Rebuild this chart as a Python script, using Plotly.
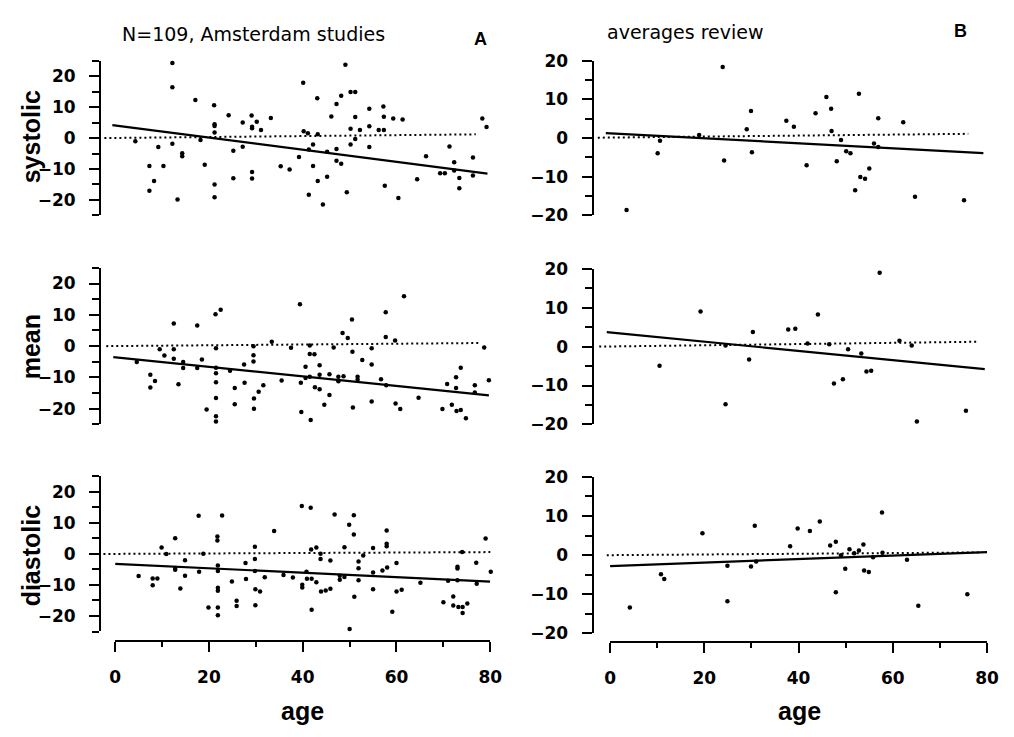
import plotly.graph_objects as go

# ---------------- data ----------------
# Panel A (Amsterdam studies), systolic
sysA_age = [4.3, 7.3, 7.3, 8.3, 9.2, 10.3, 12.2, 12.2, 12.2, 13.3, 14.3, 14.3, 17.1, 18.2, 19.1,
            21.1, 21.2, 21.2, 21.2, 21.2, 21.2, 24.2, 25.2, 25.2, 27.2, 27.2, 29.1, 29.2, 29.2, 29.2,
            29.2, 30.2, 31.1, 33.2, 35.3, 37.2, 39.2, 40.1, 40.2, 41.1, 41.3, 41.3, 42.2, 42.2, 43.1,
            43.2, 43.2, 44.3, 45.2, 45.2, 46.1, 47.2, 47.2, 47.2, 48.2, 48.2, 49.1, 49.4, 50.2, 50.2,
            50.2, 51.2, 51.2, 51.2, 52.2, 54.2, 54.2, 54.2, 56.2, 57.2, 57.3, 57.3, 57.5, 59.3, 60.4,
            61.3, 64.4, 66.3, 69.3, 70.3, 71.3, 72.3, 72.3, 73.4, 73.4, 76.3, 76.3, 78.3, 79.2]
sysA_val = [-1.0, -9.0, -17.0, -13.9, -2.9, -9.0, 24.3, 16.4, -1.8, -19.9, -4.9, -5.9, 12.3, -0.6, -8.6,
            10.6, 4.5, 3.9, 1.8, -15.0, -19.1, 7.4, -4.1, -13.0, 5.0, -2.8, 7.3, 3.7, 3.2, -11.0,
            -13.1, 5.3, 2.6, 6.5, -9.1, -10.2, -6.1, 17.9, 2.2, 1.6, -3.7, -18.3, -2.1, -9.0, 12.9,
            1.2, -13.9, -21.5, -4.4, -12.5, 7.0, 11.0, -3.5, -7.3, 13.7, -8.3, 23.7, -17.5, 14.9, 3.0,
            -2.1, 14.9, 6.8, -0.3, 2.6, 9.5, 3.8, -2.9, 2.6, 10.2, 6.9, 2.6, -15.4, 6.3, -19.4,
            6.0, -13.3, -5.9, -11.4, -11.4, -2.7, -7.8, -10.5, -12.9, -16.2, -6.3, -12.1, 6.3, 3.6]

# Panel A, mean
meanA_age = [4.6, 7.5, 7.5, 8.5, 9.5, 10.5, 12.5, 12.5, 12.5, 13.5, 14.5, 14.5, 17.5, 17.5, 18.5,
             19.5, 21.4, 21.5, 21.5, 21.5, 21.5, 21.5, 21.5, 21.5, 22.5, 24.5, 25.5, 25.5, 27.5, 27.6,
             29.5, 29.5, 29.5, 29.6, 29.6, 30.6, 31.6, 33.4, 35.5, 37.5, 39.4, 39.6, 39.7, 40.6, 40.6,
             41.5, 41.5, 41.5, 41.7, 42.5, 42.6, 43.6, 43.6, 43.6, 44.6, 45.7, 45.7, 46.6, 47.6, 47.6,
             48.5, 48.7, 49.6, 50.5, 50.6, 50.7, 51.7, 51.7, 52.7, 54.7, 54.7, 54.7, 56.7, 57.7, 57.7,
             57.8, 59.7, 59.8, 60.8, 61.6, 64.7, 69.8, 70.8, 71.8, 72.7, 72.7, 72.8, 73.7, 73.7, 74.8,
             76.7, 76.7, 78.7, 79.7]
meanA_val = [-5.1, -9.1, -13.2, -11.1, -1.0, -3.0, 7.2, -1.0, -4.0, -12.2, -5.1, -7.0, 6.6, -7.0, -4.3,
             -20.2, 10.2, -0.7, -6.9, -8.7, -11.5, -16.6, -22.4, -24.1, 11.6, -7.9, -13.4, -18.6, -5.9, -11.7,
             0.0, -2.9, -4.9, -16.7, -20.0, -14.6, -12.5, 1.4, -11.0, -0.5, 13.4, -11.7, -21.0, -6.6, -10.2,
             0.2, -2.5, -9.8, -23.6, -2.6, -13.1, -6.1, -9.1, -13.8, -18.7, -9.0, -15.6, -0.4, -9.8, -11.2,
             4.2, -9.6, 2.6, 8.5, -1.8, -19.6, -9.8, -10.7, -4.4, -0.7, -5.9, -17.7, -10.6, 10.8, 2.9,
             -12.5, 1.8, -18.3, -20.1, 15.9, -16.5, -20.1, -12.1, -18.7, -9.9, -13.4, -20.7, -6.9, -20.4, -23.0,
             -12.5, -14.8, -0.4, -10.9]

# Panel A, diastolic
diaA_age = [5.0, 8.0, 8.0, 9.0, 9.9, 10.9, 12.8, 12.8, 12.8, 13.9, 14.9, 14.9, 17.8, 17.9, 18.8,
            19.9, 21.8, 21.8, 21.9, 21.9, 21.9, 21.9, 21.9, 21.9, 22.8, 24.9, 25.9, 25.9, 27.8, 27.9,
            29.8, 29.8, 29.8, 29.9, 29.9, 30.9, 31.9, 33.9, 35.9, 37.9, 39.8, 39.9, 39.9, 40.8, 40.9,
            41.7, 41.8, 41.9, 41.9, 42.9, 42.9, 43.8, 43.8, 43.9, 44.9, 45.9, 45.9, 46.8, 47.9, 47.9,
            48.9, 48.9, 49.9, 50.0, 50.9, 50.9, 51.0, 51.9, 51.9, 51.9, 52.9, 55.0, 55.0, 55.0, 57.0,
            57.9, 57.9, 57.9, 58.0, 59.1, 60.0, 60.0, 61.1, 61.8, 65.1, 70.0, 71.0, 72.1, 72.1, 73.0,
            73.0, 73.0, 73.2, 74.0, 74.1, 74.1, 75.1, 77.0, 77.1, 79.0, 80.1]
diaA_val = [-7.1, -10.1, -7.9, -7.9, 2.1, 0.0, 5.1, -4.5, -5.1, -11.1, -2.0, -7.0, 12.3, -5.7, 0.1,
            -17.3, 5.6, 4.3, -3.7, -5.5, -10.9, -11.9, -17.3, -19.8, 12.4, -8.9, -15.1, -16.8, -2.9, -8.1,
            2.3, -1.6, -5.5, -11.4, -16.5, -12.1, -7.5, 7.4, -6.8, -7.6, 15.5, -9.9, -10.8, -5.7, -8.0,
            14.9, 1.4, -8.0, -18.0, 2.1, -9.1, 0.1, -1.6, -12.1, -11.8, -2.1, -11.2, 12.7, -7.0, -8.3,
            2.2, -7.4, 9.4, -24.2, 12.5, 6.3, -13.8, -2.4, -4.6, -8.5, -0.5, 1.9, -6.0, -11.4, -5.3,
            7.6, 3.3, 2.5, -4.4, -18.6, -2.9, -12.1, -11.5, 25.1, -9.3, -15.6, -8.6, -13.7, -16.6, -4.1,
            -4.7, -8.5, -17.1, 0.6, -17.1, -19.0, -16.0, -2.8, -9.6, 5.0, -5.7]

# Panel B (averages review), systolic
sysB_age = [3.5, 10.1, 10.6, 18.9, 23.9, 24.2, 29.0, 29.9, 30.1, 37.4, 39.0, 41.7, 43.6, 45.9, 46.9,
            47.0, 48.1, 49.0, 50.1, 51.0, 52.0, 52.8, 53.1, 54.1, 55.0, 56.0, 56.9, 56.9, 62.2, 64.7, 75.1]
sysB_val = [-18.6, -3.9, -0.7, 0.8, 18.4, -5.8, 2.3, 7.0, -3.7, 4.5, 2.9, -7.0, 6.4, 10.6, 7.6,
            1.8, -6.0, -0.5, -3.4, -3.9, -13.5, 11.5, -10.1, -10.5, -7.9, -1.4, -2.3, 5.1, 4.1, -15.2, -16.1]

# Panel B, mean
meanB_age = [10.5, 19.2, 24.5, 24.5, 29.5, 30.3, 37.8, 39.3, 41.9, 44.1, 46.5, 47.5, 49.4, 50.5, 53.3,
             54.4, 55.4, 57.2, 61.4, 64.0, 65.1, 75.5]
meanB_val = [-4.9, 9.0, 0.3, -14.8, -3.3, 3.75, 4.4, 4.6, 0.8, 8.25, 0.6, -9.5, -8.4, -0.7, -1.8,
             -6.4, -6.2, 19.0, 1.5, 0.3, -19.25, -16.5]

# Panel B, diastolic
diaB_age = [4.2, 10.8, 11.5, 19.6, 24.9, 24.9, 29.9, 30.7, 31.0, 38.2, 39.8, 42.4, 44.5, 46.7, 47.9,
            47.9, 49.0, 49.9, 50.8, 51.8, 52.8, 53.75, 53.9, 54.9, 55.8, 57.7, 57.8, 63.0, 65.4, 75.8]
diaB_val = [-13.4, -4.9, -6.1, 5.6, -2.7, -11.8, -2.9, 7.5, -1.6, 2.3, 6.8, 6.2, 8.6, 2.5, 3.4,
            -9.5, 0.0, -3.5, 1.5, 0.5, 1.2, 2.7, -3.9, -4.3, -0.5, 10.9, 0.6, -1.2, -12.9, -10.0]

# regression lines (end points: age, value)
fitA_sys_age, fitA_sys_val = [-0.6, 79.4], [4.2, -11.5]
fitA_mean_age, fitA_mean_val = [-0.4, 79.7], [-3.5, -15.7]
fitA_dia_age, fitA_dia_val = [0, 80], [-3.2, -8.9]
fitB_sys_age, fitB_sys_val = [-0.9, 79.2], [1.3, -3.9]
fitB_mean_age, fitB_mean_val = [-0.7, 79.5], [3.75, -5.8]
fitB_dia_age, fitB_dia_val = [0, 80], [-2.8, 0.8]

# dotted zero reference lines (as drawn)
refA_sys_age, refA_sys_val = [-2.3, 76.9], [0, 1.2]
refA_mean_age, refA_mean_val = [-1.9, 77.9], [0, 1.0]
refA_dia_age, refA_dia_val = [-2.5, 80], [0, 0.6]
refB_sys_age, refB_sys_val = [-2.6, 76.0], [0.1, 1.1]
refB_mean_age, refB_mean_val = [-2.3, 77.7], [0, 1.25]
refB_dia_age, refB_dia_val = [-0.7, 78.7], [0, 0.7]

row_labels = ["systolic", "mean", "diastolic"]
titleA, titleB = "N=109, Amsterdam studies", "averages review"
panel_tags = ["A", "B"]
x_label = "age"

# ---------------- layout helpers ----------------
# The page body keeps its default 8px margin, so the figure is 16px smaller than the
# window and every window-pixel position p is mapped to figure pixel p - 8.
OFF = 8
W, H = 1014 - 2 * OFF, 737 - 2 * OFF
def px(p):
    return (p - OFF) / W
def py(p):
    return 1 - (p - OFF) / H

FONT = "Liberation Sans"
TICKFONT = "DejaVu Sans"
tickfont = dict(family=TICKFONT, size=17, color="black", weight="bold")

fig = go.Figure()

panels = [
    ("x", "y", sysA_age, sysA_val, (fitA_sys_age, fitA_sys_val), (refA_sys_age, refA_sys_val)),
    ("x2", "y2", sysB_age, sysB_val, (fitB_sys_age, fitB_sys_val), (refB_sys_age, refB_sys_val)),
    ("x3", "y3", meanA_age, meanA_val, (fitA_mean_age, fitA_mean_val), (refA_mean_age, refA_mean_val)),
    ("x4", "y4", meanB_age, meanB_val, (fitB_mean_age, fitB_mean_val), (refB_mean_age, refB_mean_val)),
    ("x5", "y5", diaA_age, diaA_val, (fitA_dia_age, fitA_dia_val), (refA_dia_age, refA_dia_val)),
    ("x6", "y6", diaB_age, diaB_val, (fitB_dia_age, fitB_dia_val), (refB_dia_age, refB_dia_val)),
]

for i, (xa, ya, ages, vals, fit, ref) in enumerate(panels):
    fig.add_trace(go.Scatter(x=ref[0], y=ref[1], mode="lines", xaxis=xa, yaxis=ya,
                             line=dict(color="black", width=2, dash="2px,3px"), showlegend=False))
    fig.add_trace(go.Scatter(x=ages, y=vals, mode="markers", xaxis=xa, yaxis=ya,
                             marker=dict(color="black", size=4.5), cliponaxis=False, showlegend=False))
    fxa = xa
    if xa == "x5":
        fxa = "x7"
    elif xa == "x6":
        fxa = "x8"
    fig.add_trace(go.Scatter(x=fit[0], y=fit[1], mode="lines", xaxis=fxa, yaxis=ya,
                             line=dict(color="black", width=2.2), showlegend=False))

left_dom = [px(96.7), px(500.2)]
right_dom = [px(598.2), min(1.0, px(1008.6))]
left_rng = [-3, 81.5]
right_rng = [-3.5, -3.5 + (right_dom[1] - right_dom[0]) * W / 4.8]

rows_left = [(52, 211), (265, 426), (479.5, 639)]
rows_right = [(52, 211), (266, 426), (480, 641)]

lay = {}
for r in range(3):
    li = 2 * r + 1
    ri = 2 * r + 2
    lname = "xaxis" if li == 1 else f"xaxis{li}"
    rname = f"xaxis{ri}"
    lay[lname] = dict(domain=left_dom, range=left_rng, visible=False, anchor="y" if li == 1 else f"y{li}")
    lay[rname] = dict(domain=right_dom, range=right_rng, visible=False, anchor=f"y{ri}")
    ylname = "yaxis" if li == 1 else f"yaxis{li}"
    yrname = f"yaxis{ri}"
    common = dict(showline=True, linewidth=2, linecolor="black", showgrid=False, zeroline=False,
                  ticks="outside", ticklen=10, tickwidth=2, tickcolor="black", dtick=10,
                  tickfont=tickfont, ticklabelstandoff=10,
                  minor=dict(dtick=5, ticks="outside", ticklen=7, tickwidth=2, tickcolor="black"))
    lay[ylname] = dict(domain=[py(rows_left[r][1]), py(rows_left[r][0])], range=[-25, 25],
                       tick0=0, anchor="x" if li == 1 else f"x{li}", **common)
    lay[yrname] = dict(domain=[py(rows_right[r][1]), py(rows_right[r][0])], range=[-20, 20],
                       tick0=0, anchor=f"x{ri}", **common)

xcommon = dict(showline=True, linewidth=2, linecolor="black", showgrid=False, zeroline=False,
               ticks="outside", ticklen=10, tickwidth=2, tickcolor="black", dtick=20, tick0=0,
               range=[0, 80], tickfont=tickfont, anchor="free", ticklabelstandoff=10,
               minor=dict(dtick=10, ticks="outside", ticklen=5, tickwidth=2, tickcolor="black"))
lay["xaxis7"] = dict(domain=[px(111), px(493)], position=py(649), **xcommon)
lay["xaxis8"] = dict(domain=[px(615), px(999)], position=py(650), **xcommon)

fig.update_layout(**lay)

ann = []
label_font = dict(family=FONT, size=25, color="black", weight="bold")
for lbl, yc in zip(row_labels, [130, 346, 561]):
    ann.append(dict(text=lbl, x=px(25), y=py(yc), xref="paper", yref="paper", showarrow=False,
                    textangle=-90, font=label_font, xanchor="center", yanchor="middle"))
for xc in [302, 808]:
    ann.append(dict(text=x_label, x=px(xc), y=py(721), xref="paper", yref="paper", showarrow=False,
                    font=label_font, xanchor="center", yanchor="middle"))
title_font = dict(family="DejaVu Sans", size=19, color="black")
ann.append(dict(text=titleA, x=px(252), y=py(24), xref="paper", yref="paper", showarrow=False,
                font=title_font, xanchor="center", yanchor="middle"))
ann.append(dict(text=titleB, x=px(692), y=py(22), xref="paper", yref="paper", showarrow=False,
                font=title_font, xanchor="center", yanchor="middle"))
tag_font = dict(family=FONT, size=18, color="black", weight="bold")
ann.append(dict(text=panel_tags[0], x=px(483), y=py(30), xref="paper", yref="paper", showarrow=False,
                font=tag_font, xanchor="center", yanchor="middle"))
ann.append(dict(text=panel_tags[1], x=px(972), y=py(21), xref="paper", yref="paper", showarrow=False,
                font=tag_font, xanchor="center", yanchor="middle"))

fig.update_layout(annotations=ann, width=W, height=H, margin=dict(l=0, r=0, t=0, b=0),
                  paper_bgcolor="white", plot_bgcolor="rgba(0,0,0,0)", showlegend=False)

fig.write_html("out.html")
